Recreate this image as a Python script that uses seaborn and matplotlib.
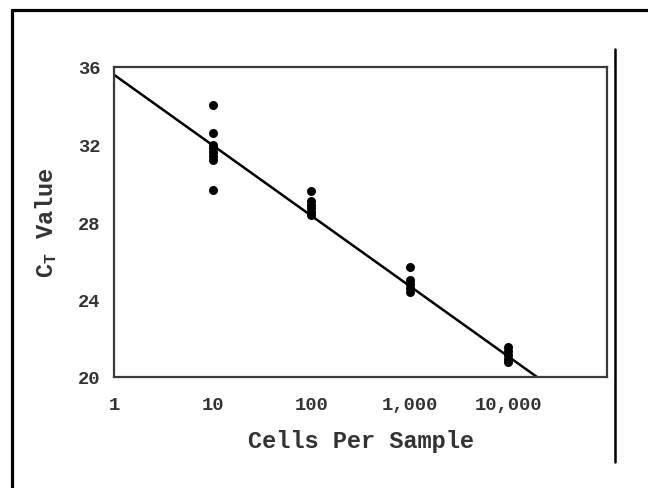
import matplotlib
matplotlib.use("Agg")
import matplotlib.pyplot as plt
import seaborn as sns
import pandas as pd
from matplotlib.lines import Line2D

# Data
cells_10 = [34.05, 32.6, 32.0, 31.8, 31.6, 31.4, 31.2, 29.65]
cells_100 = [29.6, 29.1, 28.9, 28.7, 28.5, 28.35]
cells_1000 = [25.7, 25.0, 24.8, 24.6, 24.4]
cells_10000 = [21.55, 21.35, 21.15, 20.95, 20.75]
cell_counts = [10, 100, 1000, 10000]

fit_x = [1, 19500]
fit_y = [35.6, 20.0]

x_ticks = [1, 10, 100, 1000, 10000, 100000]
x_tick_labels = ["1", "10", "100", "1,000", "10,000", ""]
y_ticks = [20, 24, 28, 32, 36]

rows = []
for c, vals in zip(cell_counts, [cells_10, cells_100, cells_1000, cells_10000]):
    for v in vals:
        rows.append({"cells": c, "ct": v})
df = pd.DataFrame(rows)
fit_df = pd.DataFrame({"cells": fit_x, "ct": fit_y})

sns.set_style("white")
plt.rcParams["font.family"] = ["Liberation Mono", "DejaVu Sans"]
plt.rcParams["font.weight"] = "bold"
plt.rcParams["mathtext.default"] = "regular"

fig = plt.figure(figsize=(6.48, 4.89), dpi=100)
ax = fig.add_axes([114/648, 1 - 378/489, (607-114)/648, (378-68)/489])

sns.lineplot(data=fit_df, x="cells", y="ct", ax=ax, color="black", linewidth=1.8)
sns.scatterplot(data=df, x="cells", y="ct", ax=ax, color="black", s=42,
                edgecolor="black", linewidth=0, zorder=3)

ax.set_xscale("log")
ax.set_xlim(1, 100000)
ax.set_ylim(20, 36)
ax.set_xticks(x_ticks)
ax.set_xticklabels(x_tick_labels)
ax.minorticks_off()
ax.set_yticks(y_ticks)
ax.set_yticklabels([str(v) for v in y_ticks])

tick_color = "#333333"
ax.tick_params(axis="both", direction="inout", length=7, width=1.2,
               colors=tick_color, labelsize=13.5)
ax.tick_params(axis="x", pad=10)
ax.tick_params(axis="y", pad=6)
for lab in ax.get_xticklabels() + ax.get_yticklabels():
    lab.set_fontweight("bold")
    lab.set_color("#333333")

for sp in ax.spines.values():
    sp.set_visible(True)
    sp.set_color("#3a3a3a")
    sp.set_linewidth(1.6)

ax.set_xlabel("Cells Per Sample", fontsize=17, fontweight="bold",
              color="#333333", labelpad=12)
ax.set_ylabel("C$_{T}$ Value", fontsize=17, fontweight="bold",
              color="#333333", labelpad=14)

# Outer frame lines
fig.add_artist(Line2D([12/648, 12/648], [0, 1 - 11/489], transform=fig.transFigure,
                      color="black", linewidth=2.3))
fig.add_artist(Line2D([12/648, 1], [1 - 11/489, 1 - 11/489], transform=fig.transFigure,
                      color="black", linewidth=2.3))
fig.add_artist(Line2D([615/648, 615/648], [1 - 50/489, 1 - 463/489], transform=fig.transFigure,
                      color="black", linewidth=1.8))

fig.savefig("out.png", dpi=100)
